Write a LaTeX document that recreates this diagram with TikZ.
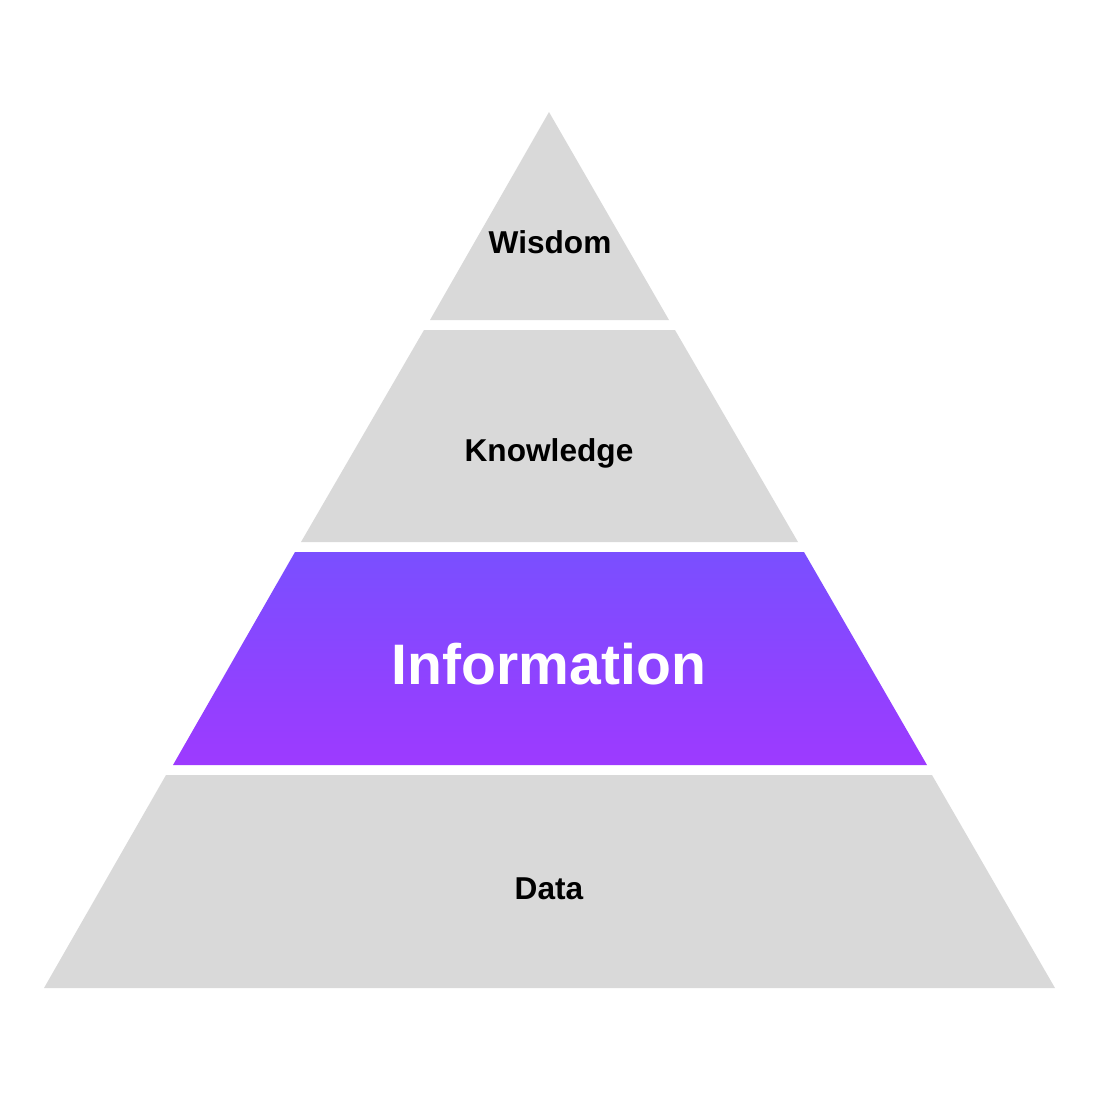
\documentclass[tikz,border=0pt]{standalone}
\usepackage{fontspec}
\setmainfont{Liberation Sans}
\usepackage{tikz}
\usetikzlibrary{positioning}
\definecolor{layergray}{HTML}{D9D9D9}
\definecolor{infotop}{HTML}{7A4FFF}
\definecolor{infobottom}{HTML}{9D3AFF}
\tikzset{x=0.02cm, y=-0.02cm,
layer/.style={ % Sets the properties for each grey band
fill=layergray},
infolayer/.style={ % Highlighted band with gradient
top color=infotop,
bottom color=infobottom},
label/.style={ % Text on the bands
font=\bfseries\fontsize{18}{20}\selectfont,
text=black},
biglabel/.style={
font=\bfseries\fontsize{32.5}{36}\selectfont,
text=white}}

\begin{document}
\begin{tikzpicture}
\useasboundingbox (0,0) rectangle (1100,1100);
\fill[layer] (549,112) -- (669,320) -- (430,320) -- cycle ;
\fill[layer] (424,330) -- (675,330) -- (798,542) -- (301,542) -- cycle ;
\path[infolayer] (295,552) -- (804,552) -- (927,765) -- (173,765) -- cycle ;
\fill[layer] (166,775) -- (932,775) -- (1055,988) -- (44,988) -- cycle ;
\node[label] (wisdom) at (550,242) {Wisdom};
\node[label] (knowledge) at (549,453) {Knowledge};
\node[biglabel] (information) at (549,664) {Information};
\node[label] (data) at (549,889) {Data};
\end{tikzpicture}
\end{document}
